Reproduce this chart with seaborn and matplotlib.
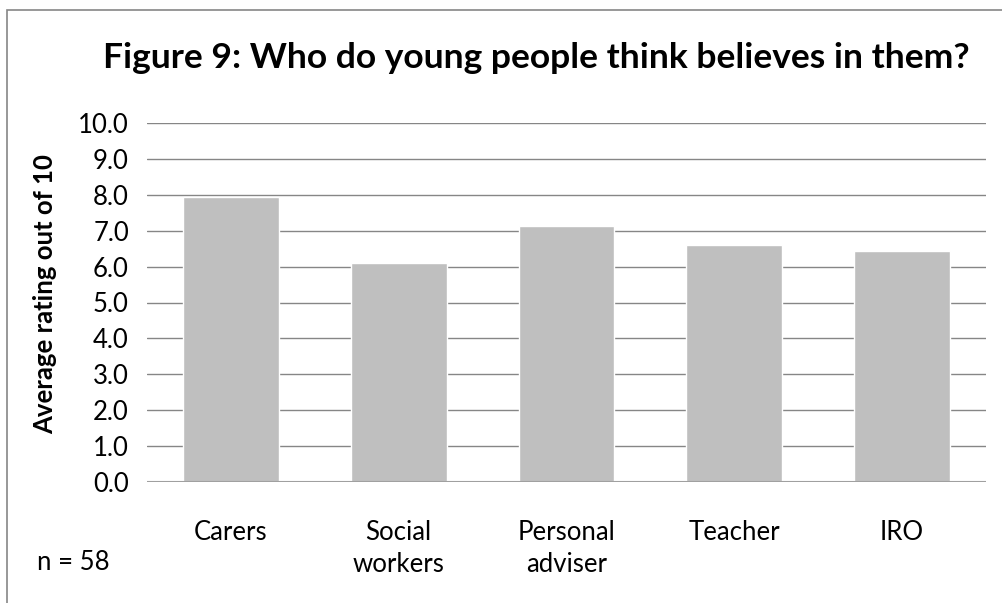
import matplotlib
matplotlib.use("Agg")
import matplotlib.pyplot as plt
import seaborn as sns
import pandas as pd

# Who young people think believes in them (average rating out of 10)
categories = ["Carers", "Social\nworkers", "Personal\nadviser", "Teacher", "IRO"]
ratings = [7.93, 6.11, 7.14, 6.60, 6.43]
y_ticks = [0, 1, 2, 3, 4, 5, 6, 7, 8, 9, 10]

sns.set_theme(style="white")
plt.rcParams["font.family"] = ["Lato", "DejaVu Sans"]

df = pd.DataFrame({"who": categories, "rating": ratings})

fig = plt.figure(figsize=(10.03, 6.03), dpi=100)
ax = fig.add_axes([147 / 1003, 1 - 482 / 603, (986 - 147) / 1003, (482 - 123) / 603])

sns.barplot(data=df, x="who", y="rating", color="#BFBFBF", saturation=1,
            width=0.57, ax=ax, zorder=3)

ax.set_ylim(0, 10)
ax.set_xlim(-0.5, len(categories) - 0.5)
ax.set_yticks(y_ticks)
ax.set_yticklabels([f"{v:.1f}" for v in y_ticks], fontsize=18.5, color="#000000")
ax.tick_params(axis="y", length=0, pad=13)
ax.tick_params(axis="x", length=0, pad=27, labelsize=18.5, labelcolor="#000000")
for lbl in ax.get_xticklabels():
    lbl.set_linespacing(1.35)
ax.grid(axis="y", color="#868686", linewidth=1.0, zorder=0)
ax.grid(axis="x", visible=False)
for side in ["top", "right", "left", "bottom"]:
    ax.spines[side].set_visible(False)
ax.axhline(0, color="#A0A0A0", linewidth=1.5, zorder=4)

ax.set_xlabel("")
ax.set_ylabel("Average rating out of 10", fontsize=18.5, fontweight="bold",
              color="#000000")
ax.yaxis.set_label_coords(57 / 1003, 1 - 294 / 603, transform=fig.transFigure)

fig.text(0.535, 1 - 58 / 603, "Figure 9: Who do young people think believes in them?",
         ha="center", va="center", fontsize=25.5, fontweight="bold", color="#000000")
fig.text(37 / 1003, 1 - 563 / 603, "n = 58", ha="left", va="center",
         fontsize=18.5, color="#000000")

# chart frame
frame = plt.Rectangle((7 / 1003, -0.05), 1.1, 1 - 10 / 603 + 0.05,
                      transform=fig.transFigure, fill=False,
                      edgecolor="#868686", linewidth=1.2)
fig.add_artist(frame)

fig.savefig("out.png", dpi=100, facecolor="white")
